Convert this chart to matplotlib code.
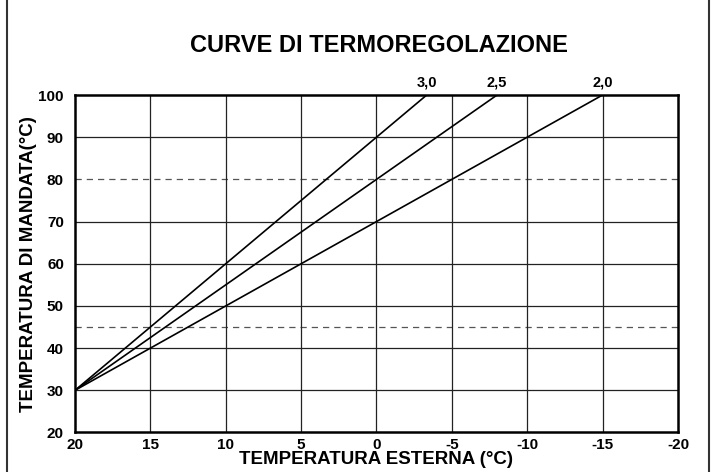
import matplotlib.pyplot as plt
from matplotlib.lines import Line2D

plt.rcParams['font.family'] = ['Liberation Sans', 'DejaVu Sans']
plt.rcParams['font.weight'] = 'bold'

# curve slopes and where each one reaches 100 °C
curve_names = ['3,0', '2,5', '2,0']
curve_x = [[20, -3.333], [20, -8], [20, -15]]
curve_y = [[30, 100], [30, 100], [30, 100]]

x_ticks = [20, 15, 10, 5, 0, -5, -10, -15, -20]
y_ticks = [20, 30, 40, 50, 60, 70, 80, 90, 100]
dashed_levels = [80, 45]

fig = plt.figure(figsize=(7.11, 4.72), dpi=100)
ax = fig.add_axes([0.1055, 0.0837, 0.848, 0.715])

for lvl in dashed_levels:
    ax.axhline(lvl, color='#555555', lw=0.9, ls=(0, (5, 4)), zorder=1)

for yt in y_ticks[1:-1]:
    if yt not in dashed_levels:
        ax.axhline(yt, color='#222222', lw=0.9, zorder=1)
for xt in x_ticks[1:-1]:
    ax.axvline(xt, color='#222222', lw=0.9, zorder=1)

for name, xs, ys in zip(curve_names, curve_x, curve_y):
    ax.plot(xs, ys, color='black', lw=1.2, zorder=2)
    ax.text(xs[1], ys[1] + 1.2, name, ha='center', va='bottom',
            fontsize=10.5, fontweight='bold')

ax.set_xlim(20, -20)
ax.set_ylim(20, 100)
ax.set_xticks(x_ticks)
ax.set_yticks(y_ticks)
ax.set_xticklabels([str(v) for v in x_ticks])
ax.tick_params(length=0, labelsize=11)
ax.tick_params(axis='x', pad=4)
ax.tick_params(axis='y', pad=8)
for lbl in ax.get_xticklabels() + ax.get_yticklabels():
    lbl.set_fontweight('bold')
for sp in ax.spines.values():
    sp.set_linewidth(1.8)

ax.set_xlabel('TEMPERATURA ESTERNA (°C)', fontsize=13.5, fontweight='bold', labelpad=-1)
ax.set_ylabel('TEMPERATURA DI MANDATA(°C)', fontsize=13.5, fontweight='bold', labelpad=1)

fig.text(0.533, 0.903, 'CURVE DI TERMOREGOLAZIONE', ha='center', va='center',
         fontsize=17, fontweight='bold')

# side frame lines
for fx in [0.01, 0.997]:
    fig.add_artist(Line2D([fx, fx], [0, 1], color='#333333', lw=1.5,
                          transform=fig.transFigure))

fig.savefig('out.png', dpi=100)
